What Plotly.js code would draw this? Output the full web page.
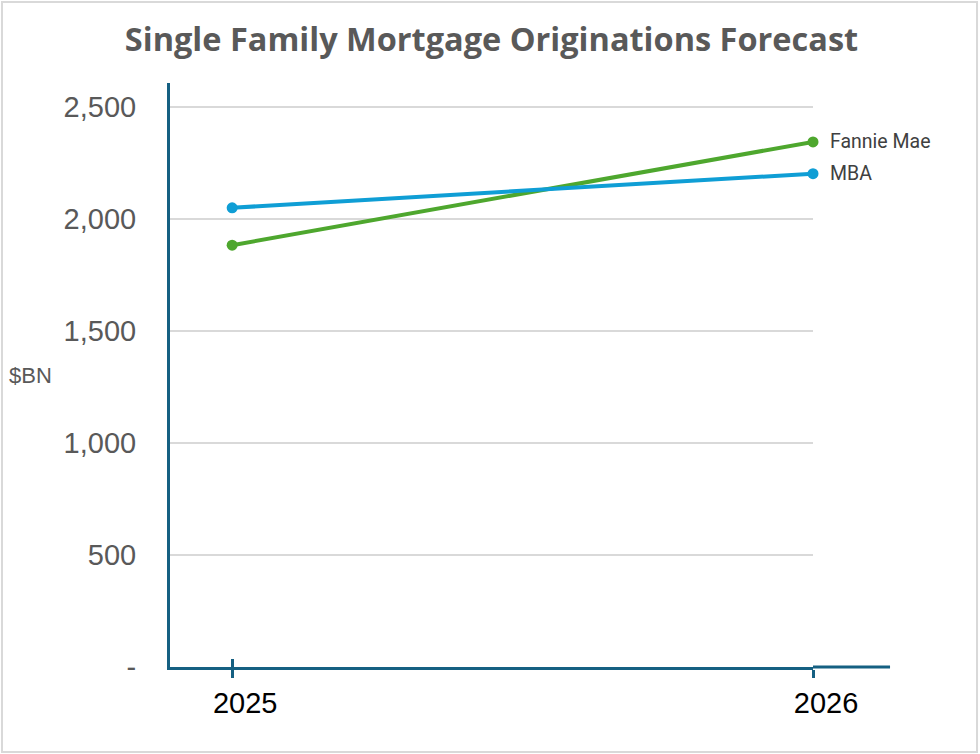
<!DOCTYPE html>
<html>
<head>
<meta charset="utf-8">
<script src="https://cdn.plot.ly/plotly-3.0.1.min.js"></script>
<style>html,body{margin:0;padding:0;background:#fff;}#chart{width:980px;height:754px;}</style>
</head>
<body>
<div id="chart"></div>
<script>
// Data
const years = [2025, 2026];
const seriesNames = ["Fannie Mae", "MBA"];
const fannieMae = [1883, 2344];
const mba = [2050, 2202];
const yTickVals = [0, 500, 1000, 1500, 2000, 2500];
const yTickText = ["-", "500", "1,000", "1,500", "2,000", "2,500"];
const xTickText = ["2025", "2026"];

const GREEN = "#4EA72E", BLUE = "#0F9ED5", AXIS = "#156082", GRAY = "#595959";

const traces = [
  {x: years, y: fannieMae, name: seriesNames[0], type: "scatter", mode: "lines+markers",
   line: {color: GREEN, width: 4}, marker: {color: GREEN, size: 11}, cliponaxis: false},
  {x: years, y: mba, name: seriesNames[1], type: "scatter", mode: "lines+markers",
   line: {color: BLUE, width: 4}, marker: {color: BLUE, size: 11}, cliponaxis: false},
  {x: years, y: [null, null], xaxis: "x2", yaxis: "y", showlegend: false, hoverinfo: "skip", type: "scatter"}
];

const lastVals = [fannieMae[fannieMae.length - 1], mba[mba.length - 1]];

const layout = {
  width: 980, height: 754,
  margin: {l: 170, r: 167, t: 83, b: 87},
  paper_bgcolor: "#fff", plot_bgcolor: "#fff",
  showlegend: false,
  title: {text: "<b>Single Family Mortgage Originations Forecast</b>",
    font: {family: "Open Sans, Arial, sans-serif", size: 32.5, color: GRAY},
    x: 0.5, xref: "paper", y: 0.947, yref: "container", yanchor: "middle"},
  xaxis: {range: [2024.893, 2026], tickvals: years, ticktext: xTickText,
    showgrid: false, zeroline: false, showline: true, linecolor: AXIS, linewidth: 3,
    ticks: "outside", ticklen: 8, tickwidth: 3, tickcolor: AXIS, ticklabelshift: 13,
    tickfont: {family: "Liberation Sans, Arial, sans-serif", size: 29, color: "#000"}},
  xaxis2: {overlaying: "x", matches: "x", anchor: "y", range: [2024.893, 2026], tickvals: years,
    showticklabels: false, showgrid: false, zeroline: false, showline: false,
    ticks: "inside", ticklen: 8, tickwidth: 3, tickcolor: AXIS, side: "bottom"},
  yaxis: {range: [0, 2607], tickvals: yTickVals, ticktext: yTickText,
    showgrid: true, gridcolor: "#D9D9D9", gridwidth: 2, zeroline: false,
    showline: true, linecolor: AXIS, linewidth: 3, ticks: "", ticklabelstandoff: 25,
    tickfont: {family: "Liberation Sans, Arial, sans-serif", size: 29, color: GRAY}},
  annotations: [
    {text: seriesNames[0], x: years[1], y: lastVals[0], xref: "x", yref: "y", xanchor: "left", yanchor: "middle",
     xshift: 15, showarrow: false, font: {family: "Roboto, Arial, sans-serif", size: 19.5, color: "#404040"}},
    {text: seriesNames[1], x: years[1], y: lastVals[1], xref: "x", yref: "y", xanchor: "left", yanchor: "middle",
     xshift: 15, showarrow: false, font: {family: "Roboto, Arial, sans-serif", size: 19.5, color: "#404040"}},
    {text: "$BN", x: -0.254, y: 0.5, xref: "paper", yref: "paper", xanchor: "left", yanchor: "middle",
     showarrow: false, font: {family: "Liberation Sans, Arial, sans-serif", size: 22, color: GRAY}}
  ],
  shapes: [
    {type: "line", xref: "paper", yref: "paper", x0: 1, x1: 1.1198, y0: 0, y1: 0,
     line: {color: AXIS, width: 3}, layer: "above"},
    {type: "rect", xref: "paper", yref: "paper", x0: -0.2613, x1: 1.2551, y0: -0.1455, y1: 1.1387,
     line: {color: "#D9D9D9", width: 2}, fillcolor: "rgba(0,0,0,0)"}
  ]
};

Plotly.newPlot("chart", traces, layout, {displayModeBar: false, staticPlot: true});
</script>
</body>
</html>
